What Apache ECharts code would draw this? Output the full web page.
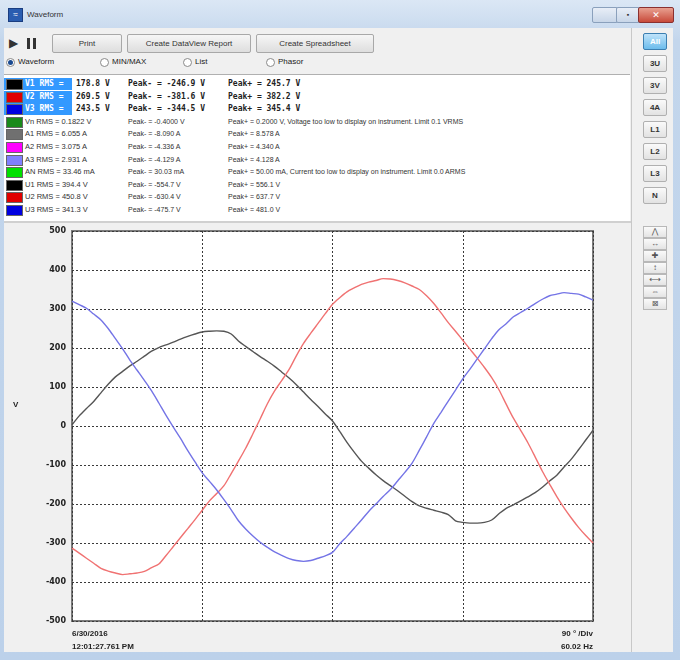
<!DOCTYPE html>
<html><head><meta charset="utf-8">
<script src="https://cdn.jsdelivr.net/npm/echarts@6/dist/echarts.min.js"></script>
<style>
body{margin:0;width:680px;height:660px;overflow:hidden;background:#fff;font-family:"Liberation Sans","DejaVu Sans",sans-serif;color:#222;}
.a{position:absolute;}
#frame{left:0;top:0;width:680px;height:660px;background:linear-gradient(#dbe7f5,#c3d6ec 40px,#bcd1ea);}
#client{left:4px;top:28px;width:669px;height:624px;background:#f0f0f0;}
.t{position:absolute;white-space:nowrap;font-size:8px;line-height:10px;}
.s{font-size:7px;color:#333;}
.btn{position:absolute;height:17px;border:1px solid #a8a8a8;border-radius:2px;background:linear-gradient(#f6f6f6,#dedede);font-size:8px;line-height:17px;text-align:center;color:#333;}
.rb{position:absolute;width:22px;height:15px;border:1px solid #b0b0b0;border-radius:2px;background:linear-gradient(#fafafa,#e2e2e2);font-size:8px;line-height:15px;text-align:center;color:#333;font-weight:bold;}
.ib{position:absolute;width:22px;height:10px;border:1px solid #b8b8b8;background:linear-gradient(#fafafa,#e4e4e4);font-size:8px;line-height:10px;text-align:center;color:#555;}
.radio{position:absolute;width:7px;height:7px;border:1px solid #8a8a8a;border-radius:50%;background:#fff;}
.sw{position:absolute;width:15px;height:9px;border:1px solid #666;}
.b{font-weight:bold;font-family:"DejaVu Sans Mono","Liberation Mono",monospace;font-size:8px;}
</style></head>
<body>
<div id="frame" class="a"></div>
<!-- title bar -->
<div class="a" style="left:8px;top:8px;width:13px;height:12px;background:#2a5db0;border:1px solid #1a3d80;color:#fff;font-size:8px;line-height:12px;text-align:center;">≈</div>
<div class="t" style="left:27px;top:10px;font-size:8px;color:#333;">Waveform</div>
<div class="a" style="left:592px;top:7px;width:24px;height:14px;border:1px solid #8aa0bc;border-radius:2px;background:linear-gradient(#e8eef7,#c8d6e8);"></div>
<div class="a" style="left:616px;top:7px;width:22px;height:14px;border:1px solid #8aa0bc;border-radius:2px;background:linear-gradient(#e8eef7,#c8d6e8);font-size:7px;line-height:14px;text-align:center;color:#333;">▪</div>
<div class="a" style="left:638px;top:7px;width:34px;height:14px;border:1px solid #8a3030;border-radius:2px;background:linear-gradient(#e8a090,#c84a3a);color:#fff;font-size:9px;line-height:14px;text-align:center;font-weight:bold;">✕</div>
<div id="client" class="a"></div>
<!-- toolbar -->
<div class="t" style="left:9px;top:37px;font-size:12px;line-height:12px;color:#333;">▶</div>
<div class="a" style="left:27px;top:38px;width:3px;height:11px;background:#333;"></div>
<div class="a" style="left:33px;top:38px;width:3px;height:11px;background:#333;"></div>
<div class="btn" style="left:52px;top:34px;width:68px;">Print</div>
<div class="btn" style="left:127px;top:34px;width:122px;">Create DataView Report</div>
<div class="btn" style="left:256px;top:34px;width:116px;">Create Spreadsheet</div>
<!-- radio row -->
<div class="radio" style="left:6px;top:58px;"></div><div class="a" style="left:8px;top:60px;width:5px;height:5px;border-radius:50%;background:#1a4a90;"></div>
<div class="t" style="left:18px;top:57px;">Waveform</div>
<div class="radio" style="left:100px;top:58px;"></div><div class="t" style="left:112px;top:57px;">MIN/MAX</div>
<div class="radio" style="left:183px;top:58px;"></div><div class="t" style="left:195px;top:57px;">List</div>
<div class="radio" style="left:266px;top:58px;"></div><div class="t" style="left:278px;top:57px;">Phasor</div>
<!-- table -->
<div class="a" style="left:4px;top:74px;width:626px;height:146px;background:#fff;border-top:1px solid #b0b0b0;border-bottom:1px solid #b0b0b0;"></div>
<div id="table"></div>
<!-- right panel -->
<div class="a" style="left:631px;top:28px;width:1px;height:624px;background:#c8c8c8;"></div>
<div id="rpanel"></div>
<!-- chart area -->
<div class="a" style="left:4px;top:221px;width:627px;height:2px;background:#d0d0d0;"></div>
<div id="chart" class="a" style="left:4px;top:224px;width:626px;height:428px;"></div>
<div class="t" style="left:13px;top:400px;font-size:8px;font-weight:bold;">V</div>
<div class="t" style="left:72px;top:629px;font-weight:bold;">6/30/2016</div>
<div class="t" style="left:72px;top:642px;font-weight:bold;">12:01:27.761 PM</div>
<div class="t" style="right:87px;top:629px;font-weight:bold;text-align:right;">90 ° /Div</div>
<div class="t" style="right:87px;top:642px;font-weight:bold;text-align:right;">60.02 Hz</div>
<script>
// ---- data ----
const degrees = [0,5,10,15,20,25,30,35,40,45,50,55,60,65,70,75,80,85,90,95,100,105,110,115,120,125,130,135,140,145,150,155,160,165,170,175,180,185,190,195,200,205,210,215,220,225,230,235,240,245,250,255,260,265,270,275,280,285,290,295,300,305,310,315,320,325,330,335,340,345,350,355,360];
const v1 = [3,26,45,63,85,107,126,140,154,166,179,192,201,208,215,223,230,236,241,243,244,243,236,218,204,191,178,166,153,138,123,106,87,68,50,31,13,-14,-42,-67,-90,-108,-125,-140,-153,-166,-180,-194,-205,-211,-216,-221,-227,-243,-247,-249,-249,-247,-241,-225,-211,-202,-192,-182,-171,-157,-141,-126,-105,-85,-61,-36,-11];
const v2 = [-313,-326,-339,-352,-365,-372,-377,-381,-379,-377,-373,-363,-354,-332,-309,-286,-263,-240,-216,-192,-173,-153,-122,-90,-57,-20,18,57,90,117,145,180,212,238,263,288,312,329,344,354,363,369,373,378,377,373,367,359,350,334,314,290,265,243,220,197,174,150,124,93,56,20,-11,-43,-79,-116,-149,-181,-210,-236,-260,-281,-300];
const v3 = [320,311,302,287,272,250,224,198,169,143,117,90,59,27,-3,-32,-63,-92,-120,-142,-164,-189,-215,-243,-264,-282,-298,-311,-323,-332,-340,-345,-347,-345,-339,-333,-324,-302,-283,-262,-241,-219,-200,-181,-163,-141,-119,-95,-62,-28,7,35,64,92,121,146,172,198,224,247,262,280,291,302,314,325,334,338,342,340,338,331,323];
const yTicks = [-500,-400,-300,-200,-100,0,100,200,300,400,500];

const rowLabels = ['V1 RMS =','V2 RMS =','V3 RMS =','Vn RMS = 0.1822 V','A1 RMS = 6.055 A','A2 RMS = 3.075 A','A3 RMS = 2.931 A','AN RMS = 33.46 mA','U1 RMS = 394.4 V','U2 RMS = 450.8 V','U3 RMS = 341.3 V'];
const rowRms = ['178.8 V','269.5 V','243.5 V','','','','','','','',''];
const rowPeakMinus = ['Peak- = -246.9 V','Peak- = -381.6 V','Peak- = -344.5 V','Peak- = -0.4000 V','Peak- = -8.090 A','Peak- = -4.336 A','Peak- = -4.129 A','Peak- = 30.03 mA','Peak- = -554.7 V','Peak- = -630.4 V','Peak- = -475.7 V'];
const rowPeakPlus = ['Peak+ = 245.7 V','Peak+ = 382.2 V','Peak+ = 345.4 V','Peak+ = 0.2000 V, Voltage too low to display on instrument. Limit 0.1 VRMS','Peak+ = 8.578 A','Peak+ = 4.340 A','Peak+ = 4.128 A','Peak+ = 50.00 mA, Current too low to display on instrument. Limit 0.0 ARMS','Peak+ = 556.1 V','Peak+ = 637.7 V','Peak+ = 481.0 V'];
const rowSwatch = ['#000000','#e00000','#0000e0','#1a8a1a','#707070','#ff00ff','#8080ff','#00e000','#000000','#e00000','#0000e0'];
const panelButtons = ['All','3U','3V','4A','L1','L2','L3','N'];
const panelIcons = ['⋀','↔','✚','↕','⟷','⇔','⊠'];

// ---- table ----
const tbl = document.getElementById('table');
let h = '';
rowLabels.forEach((lab, i) => {
  const y = 79 + i * 12.6;
  const sel = i < 3;
  if (sel) h += `<div class="a" style="left:4px;top:${y-1}px;width:68px;height:12px;background:#3399ff;"></div>`;
  h += `<div class="sw" style="left:6px;top:${y}px;background:${rowSwatch[i]};"></div>`;
  if (sel) {
    h += `<div class="t b" style="left:25px;top:${y}px;color:#fff;">${lab}</div>`;
    h += `<div class="t b" style="left:76px;top:${y}px;">${rowRms[i]}</div>`;
    h += `<div class="t b" style="left:128px;top:${y}px;">${rowPeakMinus[i]}</div>`;
    h += `<div class="t b" style="left:228px;top:${y}px;">${rowPeakPlus[i]}</div>`;
  } else {
    h += `<div class="t s" style="left:25px;top:${y}px;font-size:7.5px;">${lab}</div>`;
    h += `<div class="t s" style="left:128px;top:${y}px;">${rowPeakMinus[i]}</div>`;
    h += `<div class="t s" style="left:228px;top:${y}px;">${rowPeakPlus[i]}</div>`;
  }
});
tbl.innerHTML = h;

// ---- right panel ----
let p = '';
panelButtons.forEach((b, i) => {
  const y = 33 + i * 22;
  const st = i === 0 ? 'background:linear-gradient(#bfe3fa,#6cbcec);border-color:#3c7fb1;color:#fff;' : '';
  p += `<div class="rb" style="left:643px;top:${y}px;${st}">${b}</div>`;
});
panelIcons.forEach((b, i) => {
  p += `<div class="ib" style="left:643px;top:${226 + i * 12}px;">${b}</div>`;
});
document.getElementById('rpanel').innerHTML = p;

// ---- chart ----
const pair = arr => degrees.map((d, i) => [d, arr[i]]);
const chart = echarts.init(document.getElementById('chart'));
chart.setOption({
  animation: false,
  grid: {left: 68, top: 7, width: 521, height: 390, show: true, backgroundColor: '#ffffff', borderColor: '#7a7a7a', borderWidth: 2},
  xAxis: {type: 'value', min: 0, max: 360, interval: 90,
    axisLine: {show: false}, axisTick: {show: false}, axisLabel: {show: false},
    splitLine: {show: true, lineStyle: {color: '#3a3a3a', type: [2, 2], width: 1}}},
  yAxis: {type: 'value', min: yTicks[0], max: yTicks[yTicks.length - 1], interval: 100,
    axisLine: {show: false}, axisTick: {show: false},
    axisLabel: {fontSize: 8, fontWeight: 'bold', color: '#222', margin: 6, fontFamily: 'DejaVu Sans'},
    splitLine: {show: true, lineStyle: {color: '#3a3a3a', type: [2, 2], width: 1}}},
  series: [
    {type: 'line', data: pair(v1), showSymbol: false, smooth: 0.3, lineStyle: {color: '#555555', width: 1.4}},
    {type: 'line', data: pair(v2), showSymbol: false, smooth: 0.3, lineStyle: {color: '#f07272', width: 1.4}},
    {type: 'line', data: pair(v3), showSymbol: false, smooth: 0.3, lineStyle: {color: '#7474e6', width: 1.4}}
  ]
});
</script>
</body></html>
